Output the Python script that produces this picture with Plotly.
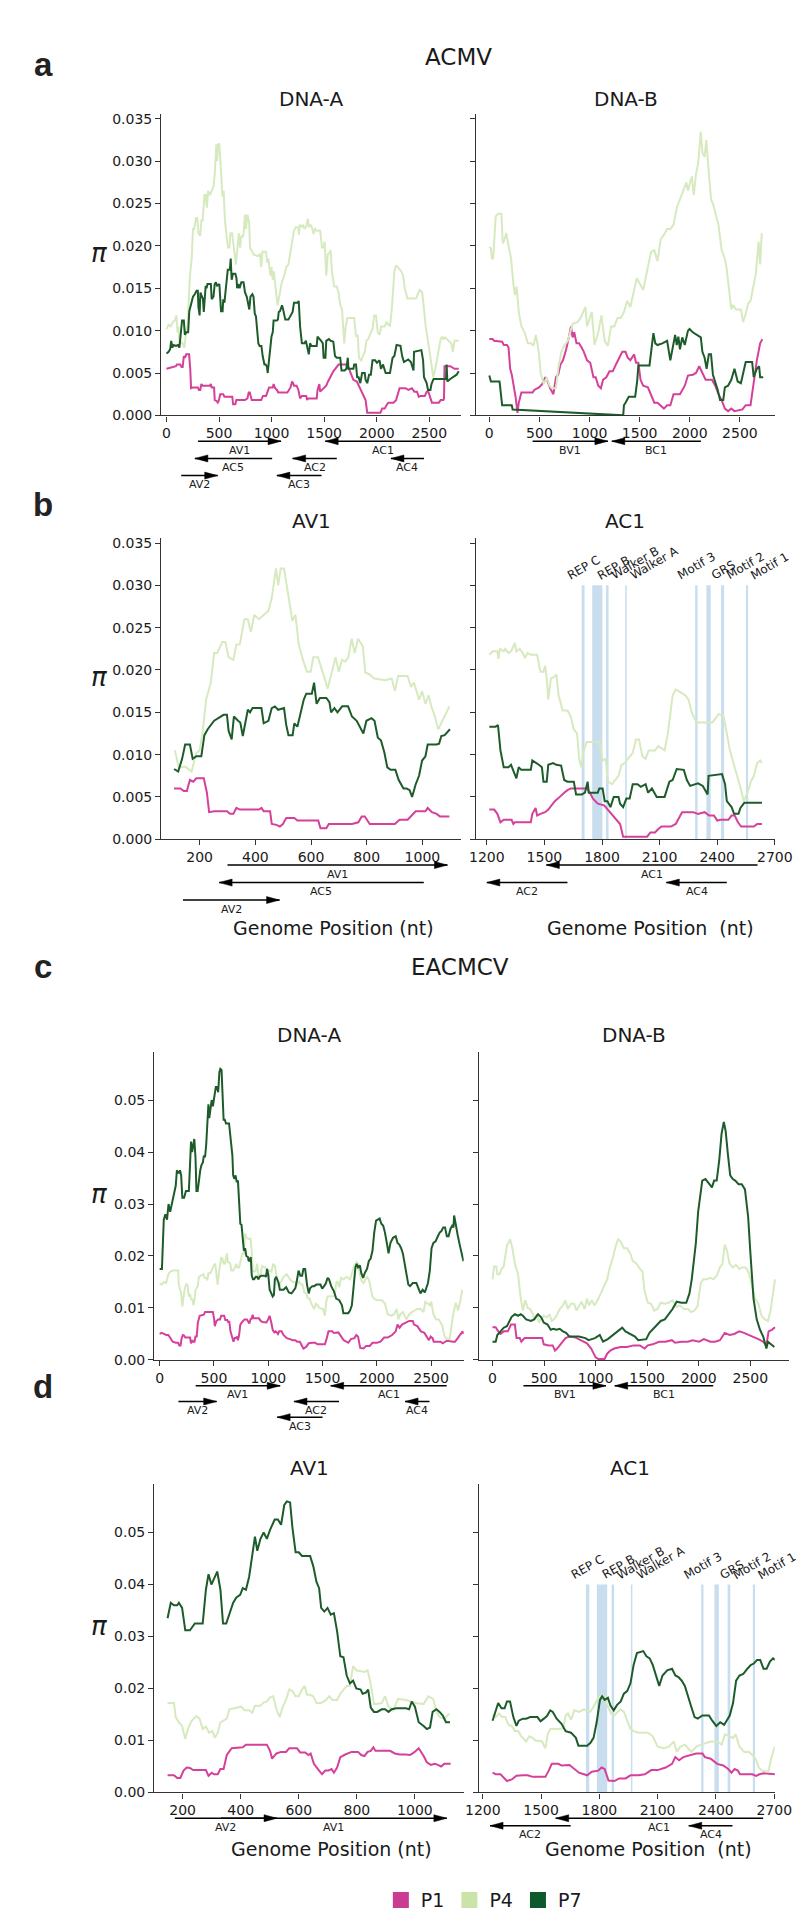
import plotly.graph_objects as go

W, H = 804, 1923

# ---------------- DATA ----------------
# ACMV DNA-A nucleotide diversity (pi) per population
ACMV_A_X_P4 = [0,20,40,60,80,95,105,111,125,148,171,188,200,212,223,240,252,263,281,292,304,321,332,344,361,373,384,396,413,430,447,459,474,482,491,503,519,533,544,556,573,585,599,608,625,642,660,673,688,700,711,723,734,746,757,769,786,795,809,827,867,890,901,913,947,959,970,988,999,1011,1022,1034,1045,1057,1080,1097,1120,1140,1160,1180,1200,1213,1230,1255,1260,1268,1288,1296,1313,1329,1346,1354,1371,1388,1399,1412,1429,1462,1479,1495,1504,1512,1520,1534,1554,1562,1574,1595,1620,1637,1653,1670,1681,1691,1703,1720,1786,1803,1819,1831,1852,1869,1886,1902,1919,1935,1960,1977,1993,2010,2027,2043,2076,2093,2126,2143,2168,2184,2209,2234,2251,2267,2292,2342,2375,2408,2433,2450,2466,2491,2508,2525,2538,2558,2575,2591,2608,2624,2633,2650,2690,2710,2724,2740,2780]
ACMV_A_P4 = [0.0102,0.0107,0.0105,0.011,0.0112,0.0118,0.0098,0.0105,0.0085,0.0086,0.008,0.0102,0.0105,0.013,0.0165,0.0185,0.022,0.022,0.0233,0.0233,0.0215,0.0212,0.023,0.023,0.026,0.026,0.0245,0.0265,0.026,0.0265,0.027,0.0285,0.032,0.030,0.032,0.032,0.0285,0.0258,0.0265,0.023,0.021,0.0198,0.0198,0.0215,0.0215,0.0198,0.0178,0.0195,0.0215,0.0198,0.0212,0.021,0.0215,0.0237,0.022,0.0237,0.0228,0.0197,0.0195,0.019,0.0188,0.019,0.0175,0.0193,0.0193,0.018,0.0185,0.0165,0.0175,0.016,0.017,0.0155,0.0145,0.013,0.0145,0.0157,0.0165,0.0175,0.0178,0.0195,0.021,0.0218,0.0222,0.0222,0.0213,0.0225,0.0222,0.0225,0.022,0.0223,0.0232,0.0222,0.0225,0.022,0.0214,0.022,0.0218,0.0218,0.0198,0.0198,0.0205,0.019,0.0165,0.019,0.0192,0.0195,0.017,0.0152,0.0152,0.0145,0.013,0.0125,0.0095,0.0085,0.0103,0.0115,0.0115,0.0093,0.0095,0.0068,0.0065,0.007,0.0075,0.0088,0.009,0.0095,0.0102,0.0118,0.0118,0.0098,0.0095,0.0105,0.0105,0.011,0.0105,0.0125,0.017,0.0177,0.0173,0.017,0.0165,0.015,0.0138,0.0138,0.0138,0.0148,0.0145,0.0125,0.0105,0.0085,0.0072,0.0058,0.0045,0.0055,0.0068,0.0075,0.009,0.0093,0.009,0.0092,0.0088,0.0085,0.0075,0.0088,0.0088]

ACMV_A_X_P7 = [0,20,35,45,55,70,90,108,123,137,148,165,175,188,206,217,229,252,269,286,298,304,315,323,338,346,355,373,381,390,422,430,447,459,470,482,503,511,519,534,540,551,574,583,603,611,620,632,655,666,672,684,695,712,733,747,764,776,788,799,817,828,840,851,863,874,886,903,915,932,943,954,963,976,988,999,1011,1019,1051,1060,1068,1080,1091,1099,1110,1130,1160,1180,1200,1213,1246,1258,1271,1288,1313,1326,1338,1354,1366,1379,1429,1437,1471,1487,1495,1512,1520,1545,1562,1587,1603,1620,1653,1665,1695,1711,1725,1731,1778,1786,1803,1814,1828,1844,1861,1886,1894,1910,1927,1944,1960,1985,2002,2027,2040,2060,2085,2126,2151,2168,2189,2226,2242,2259,2300,2325,2350,2355,2425,2441,2450,2475,2488,2511,2521,2533,2541,2633,2660,2665,2672,2700,2730,2760,2780]
ACMV_A_P7 = [0.0073,0.0075,0.0078,0.0088,0.008,0.0083,0.0082,0.0083,0.008,0.0095,0.0112,0.0112,0.0095,0.0098,0.0098,0.0123,0.013,0.014,0.0143,0.0147,0.0147,0.0128,0.0118,0.0145,0.014,0.0138,0.0122,0.0153,0.015,0.0155,0.0155,0.0137,0.014,0.0155,0.0157,0.0153,0.0155,0.0135,0.0123,0.0123,0.0137,0.0133,0.0165,0.0172,0.0172,0.0185,0.016,0.0167,0.0167,0.0162,0.015,0.0155,0.015,0.0157,0.0157,0.0145,0.014,0.0133,0.0125,0.014,0.0143,0.014,0.012,0.0117,0.0103,0.0085,0.0082,0.0082,0.007,0.006,0.006,0.0058,0.005,0.0065,0.0075,0.0093,0.0098,0.0112,0.0112,0.0113,0.0122,0.0123,0.0127,0.013,0.0125,0.0113,0.0113,0.0118,0.0122,0.0133,0.0133,0.0135,0.0105,0.0085,0.0085,0.0088,0.0082,0.0072,0.0085,0.0082,0.0082,0.0093,0.0088,0.0085,0.0068,0.0068,0.0088,0.009,0.0088,0.0087,0.007,0.0068,0.0068,0.0053,0.0053,0.0055,0.0068,0.0055,0.0055,0.006,0.006,0.0045,0.0045,0.0038,0.005,0.005,0.0042,0.0038,0.0048,0.0048,0.0065,0.0065,0.0062,0.0065,0.0055,0.006,0.005,0.005,0.0068,0.007,0.0083,0.0082,0.007,0.0063,0.0066,0.0063,0.0053,0.0075,0.0077,0.0065,0.0045,0.0038,0.003,0.003,0.0037,0.004,0.0043,0.0043,0.0043,0.006,0.004,0.0043,0.0045,0.0048,0.0052]

ACMV_A_X_P1 = [0,30,60,90,100,108,131,143,154,165,177,188,215,226,234,252,275,298,309,321,332,344,413,422,430,453,459,476,488,499,511,540,551,626,634,655,664,747,770,782,793,811,901,918,947,959,976,1011,1019,1034,1051,1063,1097,1150,1180,1195,1205,1213,1238,1255,1271,1288,1329,1338,1346,1429,1437,1454,1462,1479,1504,1520,1537,1554,1570,1587,1603,1620,1637,1720,1737,1753,1778,1811,1836,1861,1894,1910,2035,2052,2076,2093,2110,2159,2184,2217,2275,2300,2334,2358,2383,2400,2416,2458,2475,2491,2508,2525,2591,2608,2633,2640,2645,2700,2740,2780]
ACMV_A_P1 = [0.0055,0.0056,0.0057,0.0058,0.006,0.006,0.006,0.0057,0.0057,0.007,0.0068,0.0072,0.0072,0.0055,0.0032,0.0033,0.0033,0.0033,0.003,0.003,0.0037,0.0035,0.0035,0.0037,0.0033,0.0033,0.0018,0.0017,0.0015,0.0018,0.0025,0.0025,0.0022,0.0022,0.0013,0.0013,0.0018,0.0018,0.002,0.0027,0.0027,0.0018,0.0018,0.0023,0.0023,0.0027,0.0033,0.0033,0.0037,0.0032,0.003,0.0027,0.0027,0.0027,0.0033,0.004,0.0038,0.0035,0.0035,0.003,0.002,0.0023,0.0023,0.0018,0.002,0.002,0.003,0.0037,0.0028,0.003,0.0032,0.0035,0.004,0.0045,0.0048,0.0052,0.0055,0.0058,0.006,0.006,0.0055,0.0048,0.0042,0.004,0.0033,0.0027,0.0018,0.0003,0.0003,0.0008,0.0008,0.0012,0.0015,0.0015,0.0018,0.0032,0.0032,0.003,0.0032,0.0028,0.0028,0.0022,0.0023,0.0023,0.0028,0.0028,0.002,0.0015,0.0015,0.0018,0.0018,0.002,0.0058,0.0058,0.0055,0.0055]

# ACMV DNA-B
ACMV_B_X_P4 = [0,16,26,38,64,90,121,134,153,169,192,217,240,256,272,294,320,352,384,416,441,464,480,496,512,543,575,601,623,665,687,719,751,783,831,879,911,959,975,1023,1049,1087,1119,1151,1183,1215,1247,1279,1311,1343,1375,1407,1439,1471,1503,1535,1582,1614,1646,1678,1710,1742,1774,1806,1838,1870,1902,1934,1966,1982,2020,2040,2062,2084,2110,2126,2148,2164,2190,2212,2231,2254,2286,2318,2350,2366,2391,2414,2430,2462,2510,2532,2558,2583,2606,2638,2660,2686,2702,2718]
ACMV_B_P4 = [0.0199,0.0197,0.0185,0.0185,0.0235,0.0238,0.0238,0.0203,0.0208,0.0215,0.0200,0.0185,0.0155,0.0142,0.0152,0.0122,0.0105,0.0098,0.0085,0.0085,0.0082,0.0095,0.0085,0.0072,0.005,0.0037,0.0045,0.0035,0.0032,0.0032,0.0055,0.0075,0.0083,0.0088,0.0108,0.011,0.0115,0.0128,0.0105,0.0122,0.0083,0.0098,0.0118,0.0088,0.0082,0.0105,0.0105,0.0115,0.0115,0.0122,0.0135,0.0128,0.0145,0.0162,0.0155,0.0148,0.0175,0.0193,0.0195,0.0182,0.0208,0.0213,0.022,0.022,0.0225,0.0245,0.0255,0.0265,0.0275,0.0265,0.0282,0.026,0.0285,0.0298,0.0335,0.031,0.0305,0.0325,0.0285,0.0255,0.025,0.024,0.0225,0.0195,0.0185,0.0175,0.0148,0.0125,0.013,0.0125,0.0125,0.011,0.012,0.0132,0.0135,0.0155,0.0168,0.0205,0.0178,0.0215]

ACMV_B_X_P7 = [0,16,102,128,224,233,1336,1343,1359,1391,1455,1475,1487,1598,1637,1656,1678,1726,1774,1790,1806,1838,1854,1870,1886,1902,1925,1950,1982,1998,2030,2110,2126,2148,2168,2190,2212,2231,2254,2279,2302,2334,2350,2382,2414,2446,2478,2510,2558,2622,2638,2669,2692,2702,2733]
ACMV_B_P7 = [0.0047,0.004,0.004,0.0012,0.0012,0.0007,0.0,0.0012,0.0015,0.0022,0.0022,0.004,0.0059,0.0059,0.0097,0.0085,0.0083,0.0085,0.0088,0.0075,0.0065,0.0085,0.0095,0.0083,0.0093,0.0078,0.0092,0.0083,0.010,0.0102,0.0098,0.0092,0.0075,0.0068,0.0055,0.0072,0.0072,0.0048,0.004,0.003,0.0018,0.0018,0.0033,0.0035,0.0042,0.0055,0.004,0.0038,0.0063,0.0063,0.0045,0.0055,0.0058,0.0045,0.0045]

ACMV_B_X_P1 = [0,32,48,128,144,176,192,208,224,240,262,281,294,320,432,448,496,528,560,582,607,639,665,687,710,735,767,793,815,831,847,870,895,921,943,975,1007,1039,1061,1087,1113,1135,1167,1199,1231,1263,1295,1327,1359,1381,1407,1445,1464,1487,1509,1535,1582,1614,1646,1678,1710,1742,1774,1806,1838,1902,1950,1982,2030,2062,2094,2126,2158,2222,2254,2286,2318,2350,2382,2414,2446,2526,2558,2606,2638,2669,2702,2724]
ACMV_B_P1 = [0.009,0.009,0.0088,0.0087,0.0083,0.0083,0.008,0.0055,0.0048,0.0038,0.0022,0.0003,0.0015,0.0027,0.0027,0.003,0.0033,0.0037,0.0045,0.004,0.0032,0.0025,0.0045,0.0048,0.006,0.0065,0.0078,0.0092,0.0105,0.0092,0.0098,0.0085,0.0085,0.008,0.0075,0.0065,0.0062,0.0045,0.0045,0.0035,0.0032,0.0042,0.0045,0.0052,0.0052,0.006,0.0068,0.0075,0.0075,0.0068,0.0065,0.0072,0.0062,0.0062,0.0042,0.0035,0.0033,0.0025,0.0015,0.0015,0.0012,0.0008,0.0012,0.0012,0.0025,0.0025,0.0035,0.0047,0.0048,0.005,0.0058,0.005,0.0042,0.0042,0.0035,0.0025,0.0018,0.0008,0.0005,0.0008,0.0005,0.0007,0.0012,0.0012,0.004,0.0065,0.0085,0.009]

# EACMCV DNA-A
EACMCV_A_X_P7 = [0,21,38,53,68,82,97,118,132,148,159,170,181,187,198,209,225,242,269,280,289,299,308,319,330,339,350,361,374,385,398,407,418,429,440,449,457,468,479,490,501,517,528,539,550,559,570,578,589,600,611,639,650,661,670,677,688,699,710,721,732,743,754,765,776,787,798,813,820,831,839,848,859,870,886,897,909,920,936,969,980,989,1000,1013,1030,1041,1052,1061,1074,1085,1096,1107,1121,1140,1165,1190,1215,1235,1250,1266,1279,1296,1312,1324,1340,1357,1373,1385,1406,1423,1444,1481,1497,1514,1530,1547,1560,1580,1605,1626,1654,1679,1692,1737,1753,1770,1786,1803,1814,1827,1844,1857,1874,1890,1910,1926,1943,1960,1976,1993,2026,2042,2059,2075,2092,2108,2125,2149,2174,2191,2207,2224,2240,2257,2273,2290,2306,2331,2364,2381,2402,2422,2442,2455,2471,2488,2504,2521,2541,2562,2579,2595,2612,2628,2645,2661,2678,2694,2706,2712,2725,2745,2765,2785,2798]
EACMCV_A_P7 = [0.0175,0.0175,0.027,0.028,0.027,0.030,0.0285,0.0305,0.0315,0.0335,0.0365,0.036,0.036,0.0365,0.0355,0.0312,0.0312,0.0325,0.0325,0.039,0.042,0.040,0.0412,0.0425,0.039,0.0325,0.0325,0.0345,0.0365,0.0375,0.038,0.0393,0.039,0.0415,0.046,0.0492,0.0465,0.0488,0.050,0.0488,0.0505,0.0525,0.0525,0.0515,0.0553,0.056,0.0558,0.051,0.0462,0.0462,0.0455,0.0455,0.0435,0.0405,0.0393,0.0355,0.0348,0.0355,0.0342,0.0345,0.031,0.0262,0.026,0.0225,0.021,0.0215,0.020,0.0198,0.019,0.0192,0.0198,0.0163,0.0155,0.0155,0.016,0.016,0.0155,0.016,0.0162,0.0162,0.016,0.0175,0.0165,0.0135,0.0128,0.0122,0.0125,0.0155,0.016,0.0155,0.0148,0.0135,0.0135,0.0135,0.014,0.013,0.0128,0.0135,0.0138,0.0155,0.0172,0.0162,0.0162,0.0175,0.0175,0.0145,0.0128,0.0138,0.0142,0.0142,0.0145,0.0145,0.0137,0.0142,0.0147,0.0158,0.0155,0.0142,0.0132,0.0118,0.0115,0.0105,0.009,0.009,0.0095,0.0105,0.0135,0.0178,0.0185,0.0178,0.0182,0.0167,0.0158,0.0168,0.0175,0.019,0.0195,0.021,0.0245,0.0268,0.0272,0.0262,0.0258,0.0245,0.0225,0.0205,0.0225,0.0235,0.0238,0.0225,0.0222,0.0215,0.0205,0.0182,0.0165,0.0145,0.0142,0.0148,0.0148,0.0138,0.0128,0.0135,0.013,0.0138,0.0148,0.0172,0.0215,0.0225,0.0228,0.0238,0.0245,0.0248,0.0255,0.0255,0.0238,0.0238,0.0252,0.0258,0.0255,0.0278,0.026,0.024,0.022,0.020,0.019]

EACMCV_A_X_P4 = [0,20,40,60,80,100,120,148,170,176,187,198,209,220,231,247,258,269,280,291,302,311,321,330,343,352,361,385,402,413,429,440,449,468,479,490,501,512,523,534,545,556,567,578,589,600,611,620,628,639,650,661,677,694,705,716,732,743,754,765,776,787,798,826,837,848,859,870,886,897,909,925,942,969,1002,1030,1046,1063,1074,1085,1101,1119,1140,1170,1200,1225,1250,1266,1283,1299,1316,1332,1349,1365,1382,1398,1423,1439,1456,1472,1505,1522,1534,1547,1580,1613,1626,1638,1654,1671,1695,1720,1753,1770,1794,1814,1827,1844,1860,1877,1894,1910,1926,1943,1960,1976,2001,2050,2075,2100,2133,2158,2183,2199,2216,2240,2257,2273,2298,2323,2373,2406,2430,2447,2471,2488,2501,2521,2546,2570,2587,2604,2620,2637,2670,2686,2703,2728,2749,2770,2787]
EACMCV_A_P4 = [0.0147,0.0145,0.015,0.0148,0.0165,0.017,0.0172,0.0172,0.0172,0.0145,0.0135,0.0128,0.0103,0.0125,0.0138,0.0147,0.0142,0.0122,0.0127,0.0115,0.0118,0.0105,0.0115,0.0135,0.014,0.0142,0.016,0.0163,0.0165,0.0158,0.0158,0.0153,0.0167,0.0167,0.0173,0.0175,0.0183,0.0185,0.016,0.0145,0.0165,0.0178,0.0198,0.0195,0.0185,0.0185,0.0198,0.0205,0.0188,0.0188,0.0185,0.0172,0.0172,0.0178,0.0185,0.0178,0.0178,0.019,0.0198,0.0205,0.0205,0.0243,0.0235,0.0232,0.0235,0.0208,0.017,0.017,0.0172,0.0185,0.0165,0.0158,0.018,0.0178,0.0172,0.017,0.0185,0.018,0.0155,0.0145,0.0142,0.0152,0.016,0.0165,0.0155,0.015,0.015,0.0145,0.0152,0.0145,0.0145,0.013,0.0128,0.0118,0.0118,0.0108,0.0098,0.0108,0.0105,0.010,0.0098,0.0085,0.0112,0.0122,0.0122,0.0123,0.0148,0.0152,0.014,0.0158,0.0155,0.016,0.0155,0.0165,0.0182,0.0188,0.0185,0.0165,0.0152,0.0148,0.0155,0.016,0.0155,0.0138,0.0122,0.0118,0.0115,0.0115,0.0108,0.0088,0.0085,0.0088,0.0098,0.0078,0.0088,0.0092,0.0085,0.0078,0.0088,0.0092,0.0098,0.0098,0.0092,0.0112,0.0108,0.0105,0.0112,0.0088,0.0078,0.0078,0.0072,0.0065,0.0048,0.0042,0.004,0.0068,0.0088,0.011,0.0095,0.0115,0.0135]

EACMCV_A_X_P1 = [0,20,40,60,80,100,120,148,170,181,192,203,214,225,236,280,289,300,308,321,330,341,352,369,407,418,490,501,508,523,539,556,567,594,605,622,633,641,652,666,680,691,702,713,721,732,743,760,782,804,815,826,837,848,857,864,914,931,947,969,983,997,1013,1030,1041,1055,1068,1079,1090,1101,1123,1140,1170,1200,1225,1250,1266,1291,1307,1324,1349,1373,1406,1431,1456,1522,1539,1555,1588,1605,1646,1671,1695,1737,1761,1794,1811,1827,1847,1877,1902,1935,1960,2001,2034,2067,2100,2141,2174,2191,2210,2232,2265,2298,2331,2343,2373,2406,2438,2463,2480,2496,2513,2524,2562,2587,2607,2624,2645,2706,2720,2745,2770,2790,2798]
EACMCV_A_P1 = [0.005,0.0052,0.005,0.0048,0.0048,0.004,0.0035,0.0033,0.0033,0.0028,0.0028,0.0042,0.0048,0.0047,0.0043,0.0043,0.0032,0.0038,0.0035,0.0035,0.0045,0.0045,0.0072,0.0085,0.0087,0.0092,0.0092,0.008,0.0065,0.0075,0.0078,0.0078,0.0085,0.0085,0.0077,0.0077,0.0072,0.0075,0.0055,0.0045,0.0035,0.0042,0.0042,0.0045,0.0038,0.0048,0.0068,0.0073,0.0078,0.0078,0.0072,0.007,0.0078,0.008,0.0087,0.008,0.008,0.0075,0.0073,0.0073,0.0072,0.0077,0.0085,0.007,0.0058,0.0053,0.0055,0.0053,0.005,0.0055,0.0055,0.0048,0.0042,0.004,0.0038,0.0038,0.0035,0.0035,0.0028,0.0022,0.0025,0.0032,0.0033,0.0033,0.003,0.003,0.0042,0.0055,0.0055,0.0052,0.0053,0.0045,0.0038,0.0033,0.004,0.0042,0.0048,0.0045,0.0023,0.0022,0.0027,0.0027,0.0033,0.0033,0.0035,0.0043,0.0043,0.0048,0.0055,0.0068,0.0062,0.0068,0.0072,0.0075,0.0075,0.0068,0.0065,0.0055,0.0052,0.0045,0.0038,0.0045,0.0042,0.0035,0.0035,0.0035,0.0032,0.0035,0.0037,0.0035,0.0035,0.0042,0.0048,0.0055,0.005]

# EACMCV DNA-B
EACMCV_B_X_P4 = [0,16,37,47,68,87,109,140,171,193,217,248,273,295,317,342,366,388,410,429,450,466,497,528,553,575,596,621,652,683,708,730,761,792,814,839,863,894,916,938,963,988,1019,1050,1087,1112,1134,1165,1196,1218,1242,1273,1305,1336,1360,1398,1429,1454,1475,1506,1537,1569,1600,1631,1671,1708,1746,1786,1817,1857,1895,1926,1957,1988,2019,2044,2081,2112,2143,2174,2205,2230,2252,2274,2298,2330,2361,2392,2423,2454,2485,2516,2547,2578,2609,2640,2671,2696,2718,2739]
EACMCV_B_P4 = [0.0155,0.018,0.018,0.0165,0.0165,0.0175,0.018,0.022,0.0232,0.0215,0.0185,0.0165,0.012,0.0095,0.0115,0.010,0.0098,0.009,0.0078,0.0088,0.0072,0.0078,0.0085,0.0082,0.0088,0.0075,0.0078,0.0085,0.0098,0.0105,0.0115,0.0098,0.0108,0.0108,0.0095,0.0105,0.0112,0.0098,0.0118,0.0105,0.0115,0.0105,0.0115,0.0128,0.0145,0.0155,0.0175,0.0195,0.022,0.0232,0.0228,0.0215,0.0215,0.0205,0.019,0.0185,0.0175,0.017,0.0132,0.011,0.0108,0.0095,0.0098,0.011,0.0108,0.011,0.0115,0.0102,0.0105,0.0098,0.0098,0.0092,0.0095,0.0103,0.0148,0.0155,0.0155,0.0158,0.0155,0.0162,0.0178,0.0185,0.0222,0.021,0.0185,0.0178,0.0183,0.0175,0.0178,0.0178,0.0168,0.0142,0.0118,0.0108,0.0085,0.0078,0.0075,0.0095,0.0125,0.0155]

EACMCV_B_X_P7 = [0,31,47,78,109,140,162,186,217,248,273,295,326,373,404,441,472,497,534,565,590,621,652,683,714,745,777,808,839,901,932,963,994,1040,1072,1118,1165,1211,1258,1289,1336,1382,1413,1460,1491,1522,1553,1584,1631,1671,1708,1746,1786,1833,1879,1910,1932,1951,1972,1994,2013,2034,2065,2097,2128,2149,2174,2199,2221,2243,2261,2283,2305,2330,2354,2386,2417,2448,2479,2501,2531,2562,2594,2625,2656,2671,2702,2733]
EACMCV_B_P7 = [0.0035,0.0035,0.0048,0.0055,0.0062,0.0065,0.0075,0.0083,0.0088,0.0085,0.0088,0.0085,0.0078,0.0075,0.0078,0.0088,0.0082,0.0072,0.0068,0.0058,0.006,0.0058,0.006,0.0055,0.0052,0.0045,0.0045,0.0045,0.0045,0.0042,0.0038,0.004,0.0042,0.0048,0.0035,0.004,0.0048,0.0055,0.0062,0.0055,0.005,0.0045,0.0038,0.004,0.004,0.0052,0.0058,0.0065,0.0075,0.0078,0.0088,0.0098,0.0112,0.011,0.011,0.0128,0.0155,0.0185,0.0225,0.0285,0.0312,0.0345,0.0348,0.034,0.0332,0.0345,0.0345,0.0385,0.0435,0.0458,0.044,0.0395,0.0355,0.0348,0.0345,0.0338,0.0338,0.0328,0.0275,0.0205,0.0118,0.0078,0.0058,0.0045,0.0022,0.0035,0.003,0.0025]

EACMCV_B_X_P1 = [0,31,56,78,109,149,180,217,233,264,280,311,435,482,497,544,584,606,627,652,683,708,745,808,854,885,916,957,978,1000,1025,1087,1112,1143,1180,1242,1305,1367,1429,1475,1506,1553,1615,1677,1739,1771,1833,1895,1941,2003,2050,2112,2159,2205,2252,2298,2345,2392,2438,2485,2531,2578,2625,2656,2677,2709,2739]
EACMCV_B_P1 = [0.0063,0.0063,0.0055,0.005,0.0055,0.0055,0.0068,0.0068,0.0042,0.0042,0.0035,0.0042,0.0042,0.0042,0.003,0.0028,0.0028,0.0018,0.0022,0.0028,0.0035,0.0042,0.0045,0.0043,0.0038,0.0035,0.0032,0.0022,0.0015,0.0005,0.0002,0.0002,0.0012,0.0018,0.0022,0.0025,0.0025,0.0028,0.0028,0.0022,0.0028,0.003,0.0035,0.0035,0.0038,0.0033,0.0035,0.0035,0.0038,0.0035,0.004,0.0035,0.0035,0.0038,0.0052,0.0048,0.005,0.0055,0.0052,0.0048,0.0045,0.004,0.0035,0.0028,0.0055,0.0058,0.0063]

# genomic windows shown in the gene-focused panels
ACMV_AV1_WINDOW = (108, 1099)
ACMV_AC1_WINDOW = (1213, 2633)
EACMCV_AV1_WINDOW = (148, 1123)
EACMCV_AC1_WINDOW = (1250, 2706)

# gene annotations: name -> (start, end, strand)
ACMV_A_GENES = {"AV1": (300, 1090, "+"), "AC1": (1510, 2610, "-"), "AC5": (270, 1005, "-"),
                "AC2": (1200, 1620, "-"), "AC4": (2135, 2450, "-"), "AV2": (140, 487, "+"),
                "AC3": (1050, 1475, "-")}
ACMV_B_GENES = {"BV1": (432, 1183, "+"), "BC1": (1222, 2111, "-")}
EACMCV_A_GENES = {"AV1": (332, 1110, "+"), "AC1": (1575, 2643, "-"), "AV2": (173, 525, "+"),
                  "AC2": (1237, 1652, "-"), "AC4": (2260, 2485, "-"), "AC3": (1082, 1500, "-")}
EACMCV_B_GENES = {"BV1": (300, 1100, "+"), "BC1": (1185, 2140, "-")}

# Rep protein motifs (start, end)
MOTIF_NAMES = ["REP C", "REP B", "Walker B", "Walker A", "Motif 3", "GRS", "Motif 2", "Motif 1"]
ACMV_MOTIF_START = [1694, 1749, 1821, 1921, 2285, 2344, 2420, 2550]
ACMV_MOTIF_END = [1709, 1802, 1834, 1929, 2298, 2366, 2436, 2561]
EACMCV_MOTIF_START = [1731, 1787, 1863, 1962, 2324, 2392, 2460, 2590]
EACMCV_MOTIF_END = [1748, 1840, 1876, 1970, 2336, 2415, 2474, 2601]

POPULATIONS = ["P1", "P4", "P7"]

# ---------------- STYLE ----------------
LINE_COL = {"P1": "#d5409a", "P4": "#d7eabf", "P7": "#1d5c2a"}
LEG_COL = {"P1": "#cc3b91", "P4": "#c9e3a8", "P7": "#0d592c"}
AX_COL = "#333333"
TXT = "#1a1a1a"
FONT = "DejaVu Sans"
BAND_COL = "#c8deef"


def fx(p):
    return p / W


def fy(p):
    return 1 - p / H


ACMV_A = {"P1": (ACMV_A_X_P1, ACMV_A_P1), "P4": (ACMV_A_X_P4, ACMV_A_P4), "P7": (ACMV_A_X_P7, ACMV_A_P7)}
ACMV_B = {"P1": (ACMV_B_X_P1, ACMV_B_P1), "P4": (ACMV_B_X_P4, ACMV_B_P4), "P7": (ACMV_B_X_P7, ACMV_B_P7)}
EAC_A = {"P1": (EACMCV_A_X_P1, EACMCV_A_P1), "P4": (EACMCV_A_X_P4, EACMCV_A_P4), "P7": (EACMCV_A_X_P7, EACMCV_A_P7)}
EAC_B = {"P1": (EACMCV_B_X_P1, EACMCV_B_P1), "P4": (EACMCV_B_X_P4, EACMCV_B_P4), "P7": (EACMCV_B_X_P7, EACMCV_B_P7)}

YT3 = [0, 0.005, 0.01, 0.015, 0.02, 0.025, 0.03, 0.035]
YT2 = [0, 0.01, 0.02, 0.03, 0.04, 0.05]
FULL_T = [0, 500, 1000, 1500, 2000, 2500]
AV1_T = [200, 400, 600, 800, 1000]
AC1_T = [1200, 1500, 1800, 2100, 2400, 2700]

panels = [
    dict(xd=(145, 457), yd=(103.3, 406.7), xr=(-50, 2800), xt=FULL_T, yr=(0, 0.0356), yt=YT3, fmt="{:.3f}",
         ylab=True, data=ACMV_A, win=None, genes=ACMV_A_GENES,
         rows=[("AV1", 1), ("AC1", 1), ("AC5", 2), ("AC2", 2), ("AC4", 2), ("AV2", 3), ("AC3", 3)],
         g0=432.7, gs=17.3, title="DNA-A", tx=301, ty=89),
    dict(xd=(472.7, 784.5), yd=(103.3, 406.7), xr=(-134, 2853), xt=FULL_T, yr=(0, 0.0356), yt=YT3, fmt="{:.3f}",
         ylab=False, data=ACMV_B, win=None, genes=ACMV_B_GENES, rows=[("BV1", 1), ("BC1", 1)],
         g0=432.7, gs=17.3, title="DNA-B", tx=629, ty=89),
    dict(xd=(145, 457), yd=(530, 833), xr=(62, 1138), xt=AV1_T, yr=(0, 0.0356), yt=YT3, fmt="{:.3f}",
         ylab=True, data=ACMV_A, win=ACMV_AV1_WINDOW, genes=ACMV_A_GENES,
         rows=[("AV1", 1), ("AC5", 2), ("AV2", 3)], g0=859, gs=17.6, title="AV1", tx=301, ty=513),
    dict(xd=(472.7, 784), yd=(530, 833), xr=(1143, 2700), xt=AC1_T, yr=(0, 0.0356), yt=YT3, fmt="{:.3f}",
         ylab=False, data=ACMV_A, win=ACMV_AC1_WINDOW, genes=ACMV_A_GENES,
         rows=[("AC1", 1), ("AC2", 2), ("AC4", 2)], g0=859, gs=17.6, title="AC1", tx=628, ty=513,
         motifs=(ACMV_MOTIF_START, ACMV_MOTIF_END), mtop=0.030),
    dict(xd=(137.7, 460), yd=(1046.7, 1356.7), xr=(-50, 2800), xt=FULL_T, yr=(0, 0.0593), yt=YT2, fmt="{:.2f}",
         ylab=True, data=EAC_A, win=None, genes=EACMCV_A_GENES,
         rows=[("AV1", 1), ("AC1", 1), ("AV2", 2), ("AC2", 2), ("AC4", 2), ("AC3", 3)],
         g0=1382.7, gs=15.8, title="DNA-A", tx=299, ty=1030),
    dict(xd=(475.7, 799), yd=(1046.7, 1356.7), xr=(-133, 2877), xt=FULL_T, yr=(0, 0.0593), yt=YT2, fmt="{:.2f}",
         ylab=False, data=EAC_B, win=None, genes=EACMCV_B_GENES, rows=[("BV1", 1), ("BC1", 1)],
         g0=1382.7, gs=15.8, title="DNA-B", tx=637, ty=1030),
    dict(xd=(137.7, 460), yd=(1481.7, 1791.7), xr=(102, 1168), xt=AV1_T, yr=(0, 0.0593), yt=YT2, fmt="{:.2f}",
         ylab=True, data=EAC_A, win=EACMCV_AV1_WINDOW, genes=EACMCV_A_GENES,
         rows=[("AV1", 1), ("AV2", 1)], g0=1817.6, gs=7.6, title="AV1", tx=299, ty=1465),
    dict(xd=(475.7, 784), yd=(1481.7, 1791.7), xr=(1179, 2703), xt=AC1_T, yr=(0, 0.0593), yt=YT2, fmt="{:.2f}",
         ylab=False, data=EAC_A, win=EACMCV_AC1_WINDOW, genes=EACMCV_A_GENES,
         rows=[("AC1", 1), ("AC2", 2), ("AC4", 2)], g0=1817.6, gs=7.6, title="AC1", tx=633, ty=1465,
         motifs=(EACMCV_MOTIF_START, EACMCV_MOTIF_END), mtop=0.040),
]

fig = go.Figure()
layout = {}
annotations = []
shapes = []
LABEL_ANCHOR = ["center", "left", "left", "left", "center", "left", "left", "left"]

for i, p in enumerate(panels):
    k = i + 1
    g = k + 8
    sx = "" if k == 1 else str(k)
    # main axes
    layout["xaxis" + sx] = dict(
        domain=[fx(p["xd"][0]), fx(p["xd"][1])], range=list(p["xr"]), anchor="y" + sx,
        tickmode="array", tickvals=p["xt"], ticktext=[str(v) for v in p["xt"]],
        showline=True, linecolor=AX_COL, linewidth=1.3, ticks="outside", ticklen=5,
        tickwidth=1.2, tickcolor=AX_COL, showgrid=False, zeroline=False,
        tickfont=dict(family=FONT, size=14, color=TXT), fixedrange=True)
    layout["yaxis" + sx] = dict(
        domain=[fy(p["yd"][1]), fy(p["yd"][0])], range=list(p["yr"]), anchor="x" + sx,
        tickmode="array", tickvals=p["yt"], ticktext=[p["fmt"].format(v) for v in p["yt"]],
        showticklabels=p["ylab"], showline=True, linecolor=AX_COL, linewidth=1.3,
        ticks="outside", ticklen=5, tickwidth=1.2, tickcolor=AX_COL, showgrid=False,
        zeroline=False, tickfont=dict(family=FONT, size=14, color=TXT), fixedrange=True)
    # gene axes
    gtop = p["g0"] - p["gs"]
    gbot = p["g0"] + 3 * p["gs"]
    layout["xaxis" + str(g)] = dict(domain=[fx(p["xd"][0]), fx(p["xd"][1])], range=list(p["xr"]),
                                    anchor="y" + str(g), visible=False, fixedrange=True)
    layout["yaxis" + str(g)] = dict(domain=[fy(gbot), fy(gtop)], range=[4, 0],
                                    anchor="x" + str(g), visible=False, fixedrange=True)

    # motif bands
    if "motifs" in p:
        starts, ends = p["motifs"]
        for j, name in enumerate(MOTIF_NAMES):
            shapes.append(dict(type="rect", xref="x" + sx, yref="y" + sx, x0=starts[j], x1=ends[j],
                               y0=0, y1=p["mtop"], fillcolor=BAND_COL, line=dict(width=0),
                               layer="below"))
            anc = LABEL_ANCHOR[j]
            lx = (starts[j] + ends[j]) / 2 if anc == "center" else starts[j]
            annotations.append(dict(xref="x" + sx, yref="y" + sx, x=lx, y=p["mtop"], text=name,
                                    showarrow=False, textangle=-30, xanchor=anc, yanchor="bottom",
                                    font=dict(family=FONT, size=12, color=TXT)))

    # diversity traces
    for pop in POPULATIONS:
        xs, ys = p["data"][pop]
        if p["win"] is not None:
            lo, hi = p["win"]
            pts = [(a, b) for a, b in zip(xs, ys) if lo <= a <= hi]
            xs = [a for a, _ in pts]
            ys = [b for _, b in pts]
        fig.add_trace(go.Scatter(x=xs, y=ys, mode="lines", xaxis="x" + sx, yaxis="y" + sx,
                                 line=dict(color=LINE_COL[pop], width=2), showlegend=False,
                                 name=pop, hoverinfo="skip"))

    # genes
    for name, row in p["rows"]:
        s, e, strand = p["genes"][name]
        head = e if strand == "+" else s
        shapes.append(dict(type="line", xref="x" + str(g), yref="y" + str(g), x0=s, x1=e, y0=row, y1=row,
                           line=dict(color="black", width=1.5)))
        path = "M0,0 L-13,3.5 L-13,-3.5 Z" if strand == "+" else "M0,0 L13,3.5 L13,-3.5 Z"
        shapes.append(dict(type="path", xref="x" + str(g), yref="y" + str(g), xsizemode="pixel",
                           ysizemode="pixel", xanchor=head, yanchor=row, path=path,
                           fillcolor="black", line=dict(color="black", width=0.5)))
        annotations.append(dict(xref="x" + str(g), yref="y" + str(g), x=(s + e) / 2, y=row, text=name,
                                showarrow=False, yshift=-9, font=dict(family=FONT, size=11, color=TXT)))

    # subplot title
    annotations.append(dict(xref="paper", yref="paper", x=fx(p["tx"]), y=fy(p["ty"]), text=p["title"],
                            showarrow=False, xanchor="center", yanchor="middle",
                            font=dict(family=FONT, size=20, color=TXT)))
    # pi label
    if p["ylab"]:
        annotations.append(dict(xref="paper", yref="paper", x=fx(80), y=fy((p["yd"][0] + p["yd"][1]) / 2 - 12),
                                text="<i>π</i>", showarrow=False, xanchor="center", yanchor="middle",
                                font=dict(family=FONT, size=26, color=TXT)))

# x-axis titles under gene-focused panels
for (cx, cy, txt) in [(324, 922, "Genome Position (nt)"), (655, 922, "Genome Position&nbsp;&nbsp;(nt)"),
                      (322, 1849, "Genome Position (nt)"), (652, 1849, "Genome Position&nbsp;&nbsp;(nt)")]:
    annotations.append(dict(xref="paper", yref="paper", x=fx(cx), y=fy(cy), text=txt, showarrow=False,
                            xanchor="center", yanchor="middle", font=dict(family=FONT, size=19, color=TXT)))

# virus titles and panel letters
for (cx, cy, txt) in [(455, 46, "ACMV"), (456, 962, "EACMCV")]:
    annotations.append(dict(xref="paper", yref="paper", x=fx(cx), y=fy(cy), text=txt, showarrow=False,
                            xanchor="center", yanchor="middle", font=dict(family=FONT, size=23, color=TXT)))
for (cx, cy, txt) in [(22, 54, "a"), (22, 496, "b"), (22, 961, "c"), (22, 1383, "d")]:
    annotations.append(dict(xref="paper", yref="paper", x=fx(cx), y=fy(cy), text="<b>" + txt + "</b>",
                            showarrow=False, xanchor="center", yanchor="middle",
                            font=dict(family="Liberation Sans", size=33, color="#222222")))

# legend entries
for pop in POPULATIONS:
    fig.add_trace(go.Scatter(x=[None], y=[None], mode="markers", name=pop, xaxis="x", yaxis="y",
                             marker=dict(symbol="square", size=16, color=LEG_COL[pop]), showlegend=True))

fig.update_layout(
    width=W, height=H, margin=dict(l=0, r=0, t=0, b=0),
    paper_bgcolor="white", plot_bgcolor="white",
    font=dict(family=FONT, color=TXT),
    annotations=annotations, shapes=shapes,
    showlegend=True,
    legend=dict(orientation="h", x=fx(481), xanchor="center", y=fy(1900), yanchor="middle",
                font=dict(family=FONT, size=19, color=TXT), itemwidth=30, bgcolor="rgba(0,0,0,0)",
                traceorder="normal"),
    **layout,
)

fig.write_html("out.html")
